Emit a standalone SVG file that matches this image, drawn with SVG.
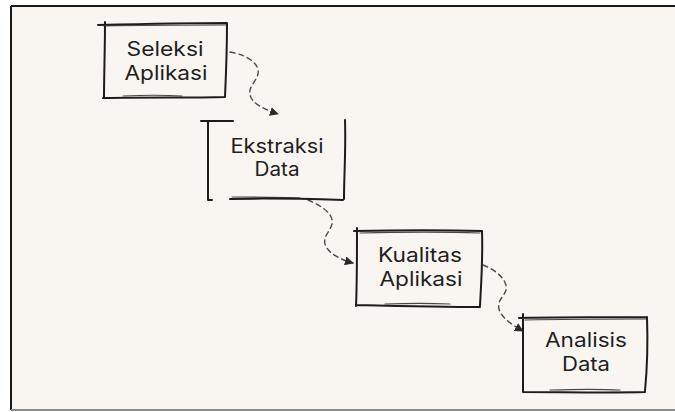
<svg xmlns="http://www.w3.org/2000/svg" width="675" height="412" viewBox="0 0 675 412">
<defs>
<style>
.box{fill:none;stroke:#1c1c1c;stroke-width:2;stroke-linecap:round;stroke-linejoin:round}
.thin{fill:none;stroke:#1c1c1c;stroke-width:1.2;stroke-linecap:round;opacity:0.8}
.lbl{font-family:Inter,"Liberation Sans",sans-serif;font-size:19.5px;fill:#1e1e1e;text-anchor:middle}
.con{fill:none;stroke:#4a4a4a;stroke-width:1.4;stroke-dasharray:5 4;stroke-linecap:round}
</style>
<marker id="ah" viewBox="0 0 10 10" refX="9" refY="5" markerWidth="9" markerHeight="9" markerUnits="userSpaceOnUse" orient="auto">
<path d="M0 0 L10 5 L0 10 Z" fill="#2a2a2a"/>
</marker>
</defs>
<rect x="0" y="0" width="675" height="412" fill="#ffffff"/>
<rect x="11" y="6" width="664" height="404" fill="#f9f6f1"/>
<path d="M11 6 L675 6 M11 6 L11 410" fill="none" stroke="#1a1a1a" stroke-width="2"/>
<path d="M11 410 L675 410" fill="none" stroke="#8a8a8a" stroke-width="2"/>

<g id="connectors">
<path class="con" d="M230 52 C248 55 260 64 258 74 C256 82 248 87 250 95 C252 104 266 110 278 114" marker-end="url(#ah)"/>
<path class="con" d="M308 200 C322 206 334 214 332 224 C330 232 323 236 325 244 C328 254 342 260 353 263" marker-end="url(#ah)"/>
<path class="con" d="M483 265 C496 270 508 280 506 290 C504 297 497 300 499 309 C501 318 514 326 523 331" marker-end="url(#ah)"/>
</g>

<g id="node-seleksi">
<path class="box" d="M98 25 C140 24 190 23 227 23 M105 22 C105 50 104 75 104 98 M227 23 C227 50 226 75 225 97 M103 98 C150 97 190 98 225 97"/>
<path class="thin" d="M123 96 C145 95 165 95 182 96 M104 26 C150 25 200 25 226 25"/>
<text class="lbl" x="165" y="56" textLength="77" lengthAdjust="spacingAndGlyphs">Seleksi</text>
<text class="lbl" x="166" y="80" textLength="83" lengthAdjust="spacingAndGlyphs">Aplikasi</text>
</g>

<g id="node-ekstraksi">
<path class="box" d="M201 121 L233 121 M208 121 C208 150 208 175 208 200 M208 200 L212 200 M345 120 C346 150 344 175 344 199 M230 199 C270 198 310 199 343 200"/>
<path class="thin" d="M232 197 C260 197 280 197 300 198"/>
<text class="lbl" x="277" y="153" textLength="93" lengthAdjust="spacingAndGlyphs">Ekstraksi</text>
<text class="lbl" x="277" y="176" textLength="45" lengthAdjust="spacingAndGlyphs">Data</text>
</g>

<g id="node-kualitas">
<path class="box" d="M354 231 C400 230 450 230 482 231 M357 228 C357 260 357 285 356 306 M482 231 C483 260 481 285 480 306 M357 305 C400 306 450 307 480 307"/>
<path class="thin" d="M360 233 C400 232 450 232 480 233 M385 304 C410 303 430 303 450 304"/>
<text class="lbl" x="420" y="262" textLength="84" lengthAdjust="spacingAndGlyphs">Kualitas</text>
<text class="lbl" x="421" y="286" textLength="83" lengthAdjust="spacingAndGlyphs">Aplikasi</text>
</g>

<g id="node-analisis">
<path class="box" d="M519 318 C560 317 610 317 647 317 M523 314 C523 340 523 365 523 392 M647 317 C648 345 647 370 645 391 M523 392 C560 392 610 393 645 392"/>
<path class="thin" d="M525 320 C570 319 610 319 646 319 M550 390 C580 389 600 389 620 390"/>
<text class="lbl" x="586" y="347" textLength="82" lengthAdjust="spacingAndGlyphs">Analisis</text>
<text class="lbl" x="586" y="371" textLength="48" lengthAdjust="spacingAndGlyphs">Data</text>
</g>
</svg>
